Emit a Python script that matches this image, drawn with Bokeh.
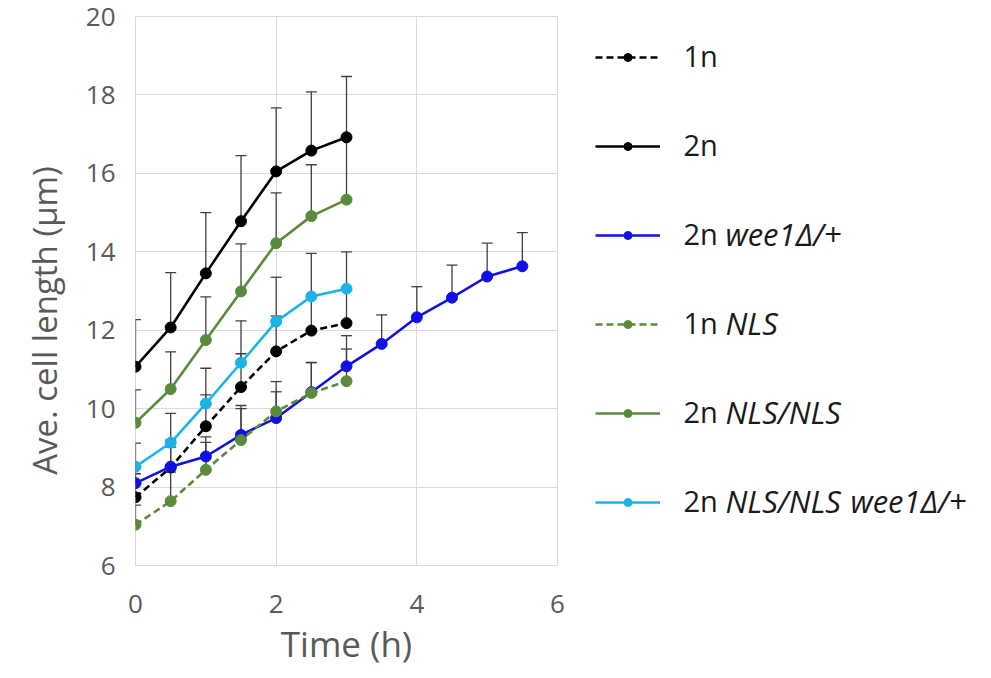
import math

from bokeh.plotting import figure
from bokeh.layouts import row
from bokeh.models import (Range1d, Whisker, ColumnDataSource, Legend, LegendItem,
                          Label, TeeHead, FixedTicker)
from bokeh.embed import file_html
from bokeh.resources import INLINE

# Sampling times (h)
time_short = [0, 0.5, 1, 1.5, 2, 2.5, 3]
time_long = [0, 0.5, 1, 1.5, 2, 2.5, 3, 3.5, 4, 4.5, 5, 5.5]

# Average cell length (µm) and +SD for each strain
len_1n = [7.74, 8.50, 9.55, 10.55, 11.46, 11.99, 12.18]
err_1n = [0.60, 0.70, 0.80, 0.85, 0.90, 0.85, 0.85]

len_2n = [11.07, 12.07, 13.45, 14.78, 16.05, 16.58, 16.92]
err_2n = [1.20, 1.40, 1.55, 1.67, 1.62, 1.50, 1.55]

len_2n_wee1 = [8.10, 8.52, 8.78, 9.33, 9.76, 10.42, 11.08, 11.65, 12.33, 12.83, 13.37, 13.63]
err_2n_wee1 = [0.42, 0.50, 0.50, 0.75, 0.67, 0.75, 0.78, 0.74, 0.78, 0.83, 0.85, 0.86]

len_1n_nls = [7.04, 7.64, 8.44, 9.20, 9.93, 10.40, 10.70]
err_1n_nls = [0.50, 0.74, 0.70, 0.80, 0.76, 0.78, 0.82]

len_2n_nls = [9.64, 10.50, 11.75, 12.99, 14.22, 14.91, 15.33]
err_2n_nls = [0.84, 0.95, 1.10, 1.21, 1.28, 1.31, 1.55]

len_2n_nls_wee1 = [8.52, 9.13, 10.13, 11.17, 12.22, 12.86, 13.06]
err_2n_nls_wee1 = [0.60, 0.75, 0.90, 1.07, 1.13, 1.10, 0.94]

x_ticks = [0, 2, 4, 6]
y_ticks = [6, 8, 10, 12, 14, 16, 18, 20]

# Series: (x, y, err, colour, dash, plain label part, italic label parts)
BLACK = "#000000"
BLUE = "#1010E6"
GREEN = "#5A8A3C"
CYAN = "#1CB2EA"
series = [
    (time_short, len_1n, err_1n, BLACK, "7 4", "1n", []),
    (time_short, len_2n, err_2n, BLACK, "solid", "2n", []),
    (time_long, len_2n_wee1, err_2n_wee1, BLUE, "solid", "2n", ["wee1Δ/+"]),
    (time_short, len_1n_nls, err_1n_nls, GREEN, "7 4", "1n", ["NLS"]),
    (time_short, len_2n_nls, err_2n_nls, GREEN, "solid", "2n", ["NLS/NLS"]),
    (time_short, len_2n_nls_wee1, err_2n_nls_wee1, CYAN, "solid", "2n", ["NLS/NLS", "wee1Δ/+"]),
]

FONT = "Open Sans"
GREY_TXT = "#595959"
GRID = "#d9d9d9"
LABEL_TXT = "#1a1a1a"

# Page layout (px): y-title strip | chart | legend
H = 678
TITLE_W, CHART_W = 70, 510
LEGEND_W = 991 - TITLE_W - CHART_W
FRAME_LEFT, FRAME_RIGHT, FRAME_TOP, FRAME_BOTTOM = 135, 557, 16, 565


def blank_figure(width):
    # the row aligns every figure's frame with the chart's frame (y 16..565)
    f = figure(width=width, height=H, output_backend="svg", toolbar_location=None,
               x_axis_location=None, y_axis_location=None,
               x_range=Range1d(0, 1), y_range=Range1d(0, 1),
               min_border_left=0, min_border_right=0,
               min_border_top=FRAME_TOP, min_border_bottom=H - FRAME_BOTTOM)
    f.grid.visible = False
    f.outline_line_color = None
    f.background_fill_color = "white"
    f.border_fill_color = "white"
    return f


# --- y-axis title strip -------------------------------------------------------
title_fig = blank_figure(TITLE_W)
title_fig.add_layout(Label(x=44, y=FRAME_BOTTOM - 320, x_units="screen", y_units="screen",
                           text="Ave. cell length (μm)", angle=math.pi / 2,
                           text_font=FONT, text_font_size="33px",
                           text_color=GREY_TXT, text_align="center",
                           text_baseline="middle"))

# --- chart ---------------------------------------------------------------------
p = figure(width=CHART_W, height=H, output_backend="svg", toolbar_location=None,
           x_range=Range1d(0, 6), y_range=Range1d(6, 20),
           min_border_left=FRAME_LEFT - TITLE_W,
           min_border_right=TITLE_W + CHART_W - FRAME_RIGHT,
           min_border_top=FRAME_TOP, min_border_bottom=H - FRAME_BOTTOM)
p.background_fill_color = "white"
p.border_fill_color = "white"
p.outline_line_color = GRID

p.xaxis.ticker = FixedTicker(ticks=x_ticks)
p.yaxis.ticker = FixedTicker(ticks=y_ticks)
for ax in (p.xaxis, p.yaxis):
    ax.axis_line_color = None
    ax.major_tick_line_color = None
    ax.minor_tick_line_color = None
    ax.major_tick_out = 0
    ax.major_tick_in = 0
    ax.major_label_text_font = FONT
    ax.major_label_text_font_size = "26px"
    ax.major_label_text_color = GREY_TXT
p.xaxis.major_label_standoff = 29
p.yaxis.major_label_standoff = 20
p.xaxis.axis_label = "Time (h)"
p.xaxis.axis_label_standoff = 4
p.xaxis.axis_label_text_font = FONT
p.xaxis.axis_label_text_font_size = "35px"
p.xaxis.axis_label_text_font_style = "normal"
p.xaxis.axis_label_text_color = GREY_TXT

p.grid.grid_line_color = GRID
p.grid.grid_line_width = 1

# --- legend strip --------------------------------------------------------------
leg_fig = blank_figure(LEGEND_W)
# keep the legend figure's copies of the series outside its visible range
leg_fig.x_range = Range1d(100, 101)
leg_fig.y_range = Range1d(100, 101)

items = []
for xs, ys, errs, color, dash, _, _ in series:
    src = ColumnDataSource(dict(x=xs, y=ys, top=[v + e for v, e in zip(ys, errs)]))
    p.add_layout(Whisker(base="x", lower="y", upper="top", source=src,
                         dimension="height", line_color="#404040", line_width=1.3,
                         lower_head=None,
                         upper_head=TeeHead(size=11, line_color="#404040",
                                            line_width=1.3)))
    p.line("x", "y", source=src, line_color=color, line_width=2.6, line_dash=dash)
    p.scatter("x", "y", source=src, size=11, fill_color=color, line_color=color)

    ln = leg_fig.line("x", "y", source=src, line_color=color, line_width=2.6,
                      line_dash=dash)
    sc = leg_fig.scatter("x", "y", source=src, size=11, fill_color=color,
                         line_color=color)
    items.append(LegendItem(label=" ", renderers=[ln, sc]))

LEG_X0 = TITLE_W + CHART_W
ROW0, PITCH = 57, 89
last_row = ROW0 + (len(series) - 1) * PITCH
legend = Legend(items=items, location=(595 - LEG_X0, FRAME_BOTTOM - (last_row + 10)),
                glyph_width=65, glyph_height=20, spacing=PITCH - 20,
                label_text_font_size="10px", label_standoff=0,
                padding=0, margin=0, border_line_color=None,
                background_fill_alpha=0)
leg_fig.add_layout(legend, "center")

ITALIC_X = [725, 850]
for i, (_, _, _, _, _, plain, italics) in enumerate(series):
    cy = FRAME_BOTTOM - (ROW0 + i * PITCH) + 2
    leg_fig.add_layout(Label(x=683 - LEG_X0, y=cy, x_units="screen", y_units="screen",
                             text=plain, text_font=FONT, text_font_size="29px",
                             text_color=LABEL_TXT, text_baseline="middle"))
    for j, part in enumerate(italics):
        leg_fig.add_layout(Label(x=ITALIC_X[j] - LEG_X0, y=cy, x_units="screen",
                                 y_units="screen", text=part, text_font=FONT,
                                 text_font_size="31px", text_font_style="italic",
                                 text_color=LABEL_TXT, text_baseline="middle"))

layout = row(title_fig, p, leg_fig, spacing=0)
open("out.html", "w").write(file_html(layout, INLINE))
